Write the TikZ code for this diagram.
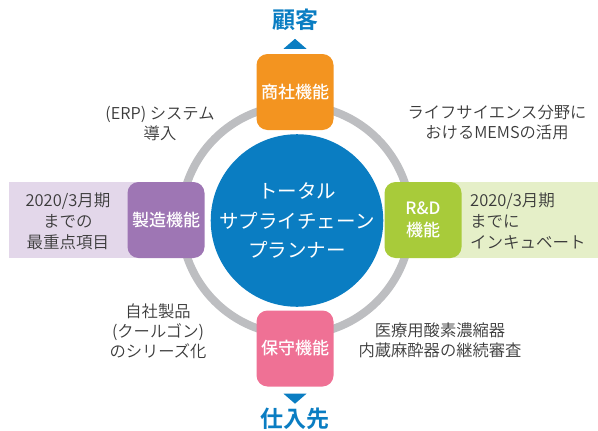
\documentclass[tikz,border=0pt]{standalone}
\usepackage{fontspec}
\usetikzlibrary{calc}
\setmainfont{Noto Sans CJK JP}[BoldFont={Noto Sans CJK JP Bold}]
\newfontfamily\medfont{Noto Sans CJK JP Medium}
\newfontfamily\lightfont{Noto Sans CJK JP DemiLight}
\definecolor{cOrange}{HTML}{F39420}
\definecolor{cPurple}{HTML}{9E76B4}
\definecolor{cGreen}{HTML}{A8CB3A}
\definecolor{cPink}{HTML}{EF7195}
\definecolor{cBlue}{HTML}{0A7DC2}
\definecolor{cRing}{HTML}{BDBEC1}
\definecolor{cLPurple}{HTML}{E3D7EA}
\definecolor{cLGreen}{HTML}{E5EFC8}
\definecolor{cText}{HTML}{3A3A3A}
\begin{document}
\begin{tikzpicture}[x=1pt,y=-1pt,
  funcbox/.style={minimum width=77pt,minimum height=76pt,rounded corners=11pt,inner sep=0pt,text=white,align=center,
     font=\medfont\fontsize{17}{22}\selectfont},
  bgband/.style={inner sep=0pt,minimum height=76pt},
  lbl/.style={text=cText,align=center,inner sep=0pt,font=\lightfont\fontsize{16.3}{20}\selectfont},
  bandtxt/.style={text=cText,inner sep=0pt,font=\lightfont\fontsize{16.5}{21}\selectfont},
  title/.style={text=cBlue,inner sep=0pt,font=\bfseries\fontsize{23}{26}\selectfont},
  tri/.style={fill=cBlue}]
\useasboundingbox (0,0) rectangle (598,431);
% backgrounds bands
\node[bgband,fill=cLPurple,minimum width=180pt,anchor=west] (bandL) at (9,220) {};
\node[bgband,fill=cLGreen,minimum width=180pt,anchor=west] (bandR) at (418,220) {};
% ring
\node[circle,draw=cRing,line width=8pt,minimum size=230pt,inner sep=0pt] (ring) at (296,220) {};
% center
\node[circle,fill=cBlue,minimum size=166pt,inner sep=0pt,text=white,align=center,
  font=\fontsize{19.5}{29.5}\selectfont] (hub) at (297,220.5) {トータル\\サプライチェーン\\プランナー};
% function boxes
\node[funcbox,fill=cOrange] (trade) at (295,92) {商社機能};
\node[funcbox,fill=cPurple] (mfg) at (166,220) {製造機能};
\node[funcbox,fill=cGreen] (rd) at (423,220) {R\&D\\機能};
\node[funcbox,fill=cPink] (maint) at (295,348.5) {保守機能};
% titles
\node[title] (cust) at (295,20) {顧客};
\node[title] (supp) at (295,419) {仕入先};
\fill[tri] ($(trade.north)+(-11.5,-5)$) -- ($(trade.north)+(11.5,-5)$) -- ($(trade.north)+(0,-15)$) -- cycle;
\fill[tri] ($(maint.south)+(-11.5,7)$) -- ($(maint.south)+(11.5,7)$) -- ($(maint.south)+(0,17)$) -- cycle;
% band texts
\node[bandtxt,align=center] (bandLt) at (68,221) {2020/3月期\\までの\\最重点項目};
\node[bandtxt,align=left,anchor=west] (bandRt) at (470,221) {2020/3月期\\までに\\インキュベート};
% labels
\node[lbl] (erp) at (160,123) {(ERP) システム\\導入};
\node[lbl] (mems) at (497,123) {ライフサイエンス分野に\\おけるMEMSの活用};
\node[lbl] (cool) at (158,331) {自社製品\\(クールゴン)\\のシリーズ化};
\node[lbl] (med) at (440,340) {医療用酸素濃縮器\\内蔵麻酔器の継続審査};
\end{tikzpicture}
\end{document}
